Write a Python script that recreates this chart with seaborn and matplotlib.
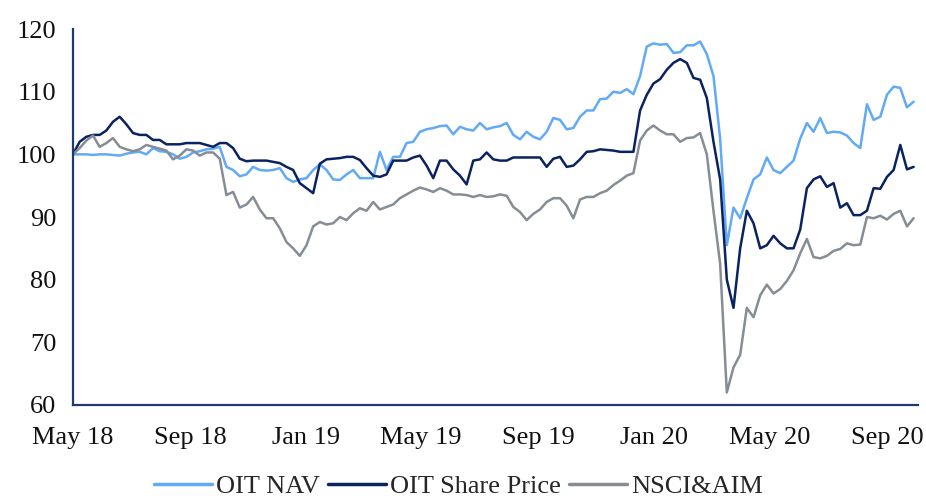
import numpy as np
import pandas as pd
import matplotlib
matplotlib.use('Agg')
import matplotlib.pyplot as plt
import matplotlib.dates as mdates
import seaborn as sns

# weekly observations, rebased to 100 at start (May 2018)
start_date = '2018-05-01'
n_weeks = 127

oit_nav = [
    100.0, 100.0, 100.0, 99.9, 100.0, 100.0, 99.9, 99.8, 100.1, 100.3,
    100.4, 100.0, 101.0, 100.5, 100.4, 100.0, 99.3, 99.6, 100.3, 100.5,
    100.8, 100.9, 101.2, 98.0, 97.5, 96.5, 96.8, 98.0, 97.5, 97.4,
    97.5, 97.8, 96.2, 95.6, 96.0, 96.2, 97.5, 98.4, 97.5, 96.0,
    95.9, 96.8, 97.5, 96.2, 96.2, 96.2, 100.4, 97.5, 99.6, 99.6,
    101.8, 102.0, 103.6, 104.0, 104.2, 104.5, 104.6, 103.2, 104.4, 104.0,
    103.8, 105.0, 104.0, 104.3, 104.5, 105.0, 103.1, 102.4, 103.6, 102.8,
    102.4, 103.6, 105.8, 105.5, 104.0, 104.2, 106.0, 107.0, 107.0, 108.8,
    108.9, 110.0, 109.8, 110.4, 109.6, 112.5, 117.2, 117.7, 117.5, 117.6,
    116.2, 116.3, 117.4, 117.4, 118.0, 116.0, 112.5, 102.5, 85.5, 91.5,
    89.8, 93.0, 96.0, 96.8, 99.5, 97.5, 97.0, 98.0, 99.0, 102.5,
    105.0, 103.6, 105.8, 103.4, 103.6, 103.5, 103.0, 101.8, 101.0, 108.0,
    105.5, 106.0, 109.5, 110.8, 110.6, 107.5, 108.4,
]

oit_share_price = [
    100.0, 102.0, 102.8, 103.1, 103.1, 103.8, 105.2, 106.0, 104.8, 103.4,
    103.1, 103.1, 102.3, 102.3, 101.6, 101.6, 101.6, 101.8, 101.8, 101.8,
    101.5, 101.2, 101.8, 101.8, 101.0, 99.3, 98.9, 99.0, 99.0, 99.0,
    98.8, 98.6, 98.0, 97.5, 95.4, 94.6, 93.8, 98.5, 99.2, 99.3,
    99.4, 99.6, 99.6, 99.1, 97.8, 96.6, 96.4, 96.8, 99.0, 99.0,
    99.0, 99.5, 99.8, 98.2, 96.2, 99.0, 99.0, 97.6, 96.6, 95.2,
    99.0, 99.2, 100.3, 99.2, 99.0, 99.0, 99.5, 99.5, 99.5, 99.5,
    99.5, 98.0, 99.3, 99.6, 98.0, 98.2, 99.2, 100.4, 100.5, 100.8,
    100.7, 100.6, 100.4, 100.4, 100.4, 107.0, 109.5, 111.3, 112.0, 113.5,
    114.6, 115.2, 114.6, 112.2, 111.9, 109.0, 102.0, 96.0, 80.0, 75.5,
    85.0, 91.0, 89.0, 85.0, 85.5, 87.0, 85.8, 85.0, 85.0, 88.0,
    94.6, 96.0, 96.5, 94.8, 95.4, 91.5, 92.2, 90.3, 90.3, 91.0,
    94.6, 94.5, 96.4, 97.5, 101.5, 97.6, 98.0,
]

nsci_aim = [
    100.0, 101.0, 102.2, 103.0, 101.2, 101.8, 102.6, 101.2, 100.8, 100.5,
    100.8, 101.5, 101.2, 100.9, 100.6, 99.2, 99.8, 100.8, 100.6, 99.8,
    100.3, 100.3, 99.3, 93.5, 94.0, 91.5, 92.0, 93.2, 91.2, 89.8,
    89.8, 88.2, 86.0, 85.0, 83.8, 85.5, 88.5, 89.2, 88.8, 89.0,
    90.0, 89.5, 90.6, 91.4, 91.0, 92.4, 91.2, 91.6, 92.0, 93.0,
    93.6, 94.2, 94.7, 94.4, 94.0, 94.6, 94.2, 93.6, 93.6, 93.5,
    93.2, 93.5, 93.2, 93.3, 93.6, 93.4, 91.6, 90.8, 89.5, 90.5,
    91.2, 92.4, 93.0, 93.0, 91.8, 89.8, 92.8, 93.2, 93.2, 93.8,
    94.2, 95.1, 95.8, 96.6, 97.0, 102.2, 103.8, 104.6, 103.8, 103.2,
    103.2, 102.0, 102.6, 102.7, 103.4, 100.0, 91.0, 82.5, 62.0, 66.0,
    68.0, 75.5, 74.0, 77.5, 79.2, 77.8, 78.5, 79.8, 81.5, 84.2,
    86.5, 83.6, 83.4, 83.8, 84.6, 84.9, 85.8, 85.5, 85.6, 90.0,
    89.8, 90.2, 89.6, 90.5, 91.0, 88.5, 89.8,
]

series_names = ['OIT NAV', 'OIT Share Price', 'NSCI&AIM']
colours = ['#62AAF6', '#0A2260', '#878D95']
tick_dates = ['2018-05-01', '2018-09-01', '2019-01-01', '2019-05-01',
              '2019-09-01', '2020-01-01', '2020-05-01', '2020-09-01']
y_ticks = [60, 70, 80, 90, 100, 110, 120]

dates = pd.date_range(start_date, periods=n_weeks, freq='7D')
df = pd.DataFrame({'date': dates, 'OIT NAV': oit_nav,
                   'OIT Share Price': oit_share_price, 'NSCI&AIM': nsci_aim})
long_df = df.melt(id_vars='date', var_name='series', value_name='value')

sns.set_style('white')
plt.rcParams['font.family'] = ['Liberation Serif', 'DejaVu Serif']
axis_col = '#1F3A6E'

fig = plt.figure(figsize=(9.26, 4.96), dpi=100)
ax = fig.add_axes([0.0788, 0.1835, 0.913, 0.758])

sns.lineplot(data=long_df, x='date', y='value', hue='series', hue_order=series_names,
             palette=dict(zip(series_names, colours)), linewidth=1.8, ax=ax, legend=False)

ax.set_xlim(pd.Timestamp('2018-05-01'), pd.Timestamp('2020-10-04'))
ax.set_ylim(60, 120)
ax.set_yticks(y_ticks)
ax.set_xticks(pd.to_datetime(tick_dates))
ax.xaxis.set_major_formatter(mdates.DateFormatter('%b %y'))
ax.set_xlabel('')
ax.set_ylabel('')

sns.despine(ax=ax)
for s in ['left', 'bottom']:
    ax.spines[s].set_color(axis_col)
    ax.spines[s].set_linewidth(1.6)
ax.tick_params(axis='both', which='major', direction='out', length=6, width=1.4,
               color=axis_col, labelsize=19, labelcolor='#111111', pad=6)
ax.tick_params(axis='x', pad=10)

handles = [plt.Line2D([], [], color=c, linewidth=2.5) for c in colours]
fig.legend(handles, series_names, loc='center', bbox_to_anchor=(0.495, 0.02), ncol=3,
           frameon=False, fontsize=19, handlelength=2.2, handletextpad=0.15,
           columnspacing=0.3)

fig.savefig('out.png', dpi=100)
